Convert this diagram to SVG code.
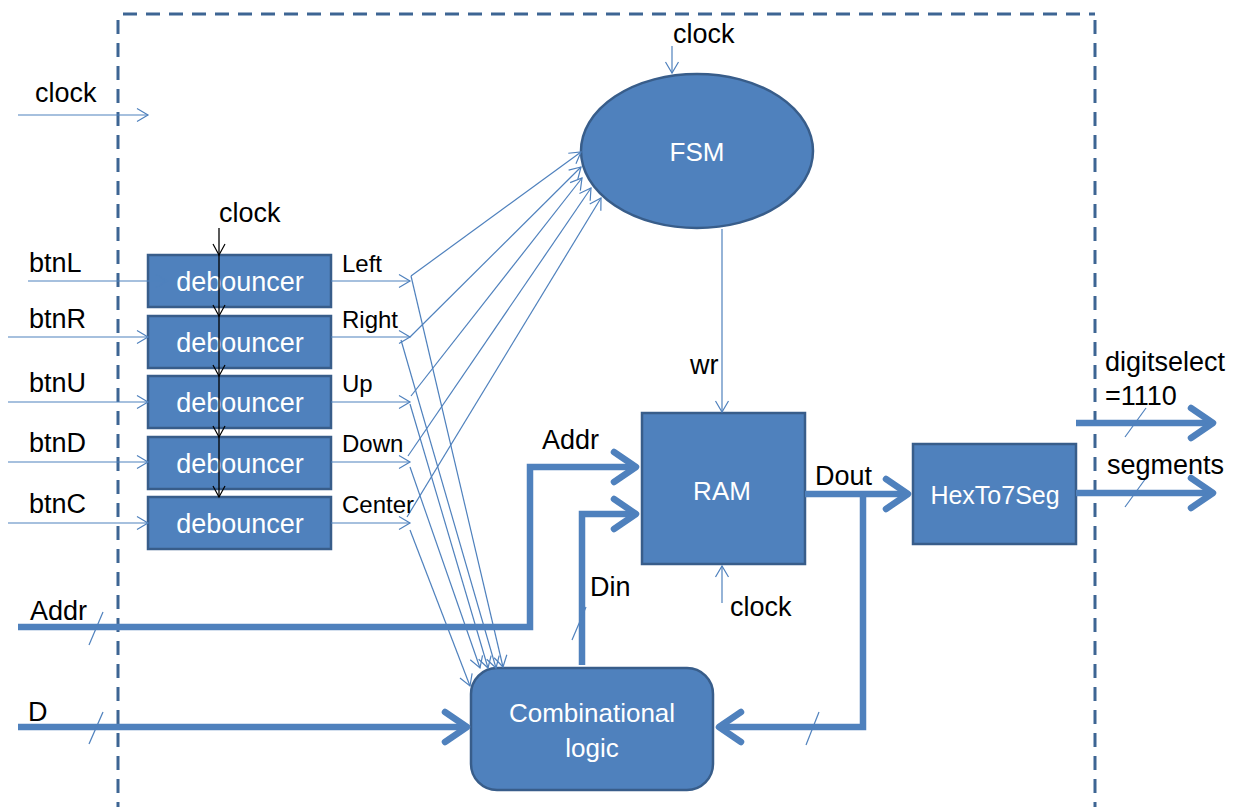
<svg xmlns="http://www.w3.org/2000/svg" width="1239" height="807" viewBox="0 0 1239 807">
<defs>
<marker id="thin" markerUnits="userSpaceOnUse" markerWidth="20" markerHeight="20" refX="11" refY="7" orient="auto" overflow="visible">
<path d="M0,0.5 L11,7 L0,13.5" fill="none" stroke="#4f81bd" stroke-width="1.2"/>
</marker>
<marker id="blk" markerUnits="userSpaceOnUse" markerWidth="20" markerHeight="20" refX="11" refY="7" orient="auto" overflow="visible">
<path d="M0,1 L11,7 L0,13" fill="none" stroke="#000" stroke-width="1.2"/>
</marker>
<marker id="thick" markerUnits="userSpaceOnUse" markerWidth="40" markerHeight="40" refX="0" refY="0" orient="auto" overflow="visible">
<path d="M-22,-15 L0,0 L-22,15" fill="none" stroke="#4f81bd" stroke-width="6.5" stroke-linecap="round" stroke-linejoin="round"/>
</marker>
</defs>
<style>
.node{fill:#4f81bd;stroke:#385d8a;stroke-width:2.5}
.nl{fill:#fff;font-family:"Liberation Sans",Arial,sans-serif;text-anchor:middle}
.t{fill:#000;font-family:"Liberation Sans",Arial,sans-serif;font-size:27px}
.s{font-size:24px}
.thin{fill:none;stroke:#4f81bd;stroke-width:1.2}
.thick{fill:none;stroke:#4f81bd;stroke-width:6.5}
.tick{fill:none;stroke:#4f81bd;stroke-width:1.2}
.dash{fill:none;stroke:#3d6593;stroke-width:3;stroke-dasharray:14 9}
</style>
<g id="boundary">
<line class="dash" x1="123" y1="14" x2="1095" y2="14"/>
<line class="dash" x1="118" y1="20" x2="118" y2="807"/>
<line class="dash" x1="1095" y1="20" x2="1095" y2="807"/>
</g>
<g id="fsm"><ellipse class="node" cx="697" cy="151" rx="116" ry="77"/><text class="nl" x="697" y="161" font-size="26">FSM</text></g>
<g id="ram"><rect class="node" x="642" y="413" width="163" height="151"/><text class="nl" x="722" y="500" font-size="26">RAM</text></g>
<g id="hex"><rect class="node" x="913" y="444" width="163" height="100"/><text class="nl" x="995" y="504" font-size="25">HexTo7Seg</text></g>
<g id="comb"><rect class="node" x="471" y="668" width="242" height="122" rx="26" ry="26"/><text class="nl" x="592" y="722" font-size="26">Combinational</text><text class="nl" x="592" y="757" font-size="26">logic</text></g>
<g id="debL"><rect class="node" x="148" y="255" width="183" height="52"/><text class="nl" x="240" y="291" font-size="27">debouncer</text></g>
<g id="debR"><rect class="node" x="148" y="316" width="183" height="52"/><text class="nl" x="240" y="352" font-size="27">debouncer</text></g>
<g id="debU"><rect class="node" x="148" y="376" width="183" height="52"/><text class="nl" x="240" y="412" font-size="27">debouncer</text></g>
<g id="debD"><rect class="node" x="148" y="437" width="183" height="52"/><text class="nl" x="240" y="473" font-size="27">debouncer</text></g>
<g id="debC"><rect class="node" x="148" y="497" width="183" height="52"/><text class="nl" x="240" y="533" font-size="27">debouncer</text></g>
<g id="connectors">
<line class="thin" x1="18" y1="115" x2="148" y2="115" marker-end="url(#thin)"/>
<line class="thin" x1="672" y1="46" x2="672" y2="73" marker-end="url(#thin)"/>
<line class="thin" x1="722" y1="229" x2="722" y2="412" marker-end="url(#thin)"/>
<line class="thin" x1="722" y1="603" x2="722" y2="566" marker-end="url(#thin)"/>
<line class="thin" x1="28" y1="281" x2="167" y2="281" marker-end="url(#thin)"/>
<line class="thin" x1="8" y1="337" x2="148" y2="337" marker-end="url(#thin)"/>
<line class="thin" x1="8" y1="402" x2="148" y2="402" marker-end="url(#thin)"/>
<line class="thin" x1="8" y1="462" x2="148" y2="462" marker-end="url(#thin)"/>
<line class="thin" x1="8" y1="523" x2="148" y2="523" marker-end="url(#thin)"/>
<line class="thin" x1="331" y1="281" x2="410" y2="281" marker-end="url(#thin)"/>
<line class="thin" x1="331" y1="337" x2="410" y2="337" marker-end="url(#thin)"/>
<line class="thin" x1="331" y1="402" x2="410" y2="402" marker-end="url(#thin)"/>
<line class="thin" x1="331" y1="462" x2="410" y2="462" marker-end="url(#thin)"/>
<line class="thin" x1="331" y1="523" x2="410" y2="523" marker-end="url(#thin)"/>
<line class="thin" x1="411" y1="276" x2="581" y2="152" marker-end="url(#thin)"/>
<line class="thin" x1="410" y1="337" x2="581" y2="167" marker-end="url(#thin)"/>
<line class="thin" x1="411" y1="396" x2="582" y2="178" marker-end="url(#thin)"/>
<line class="thin" x1="408" y1="456" x2="591" y2="188" marker-end="url(#thin)"/>
<line class="thin" x1="407" y1="517" x2="601" y2="198" marker-end="url(#thin)"/>
<line class="thin" x1="411" y1="276" x2="503" y2="667" marker-end="url(#thin)"/>
<line class="thin" x1="401" y1="340" x2="496" y2="668" marker-end="url(#thin)"/>
<line class="thin" x1="410" y1="404" x2="488" y2="668" marker-end="url(#thin)"/>
<line class="thin" x1="410" y1="467" x2="480" y2="668" marker-end="url(#thin)"/>
<line class="thin" x1="410" y1="530" x2="470" y2="686" marker-end="url(#thin)"/>
<g stroke="#000" stroke-width="1.3" fill="none">
<line x1="219" y1="228" x2="219" y2="255" marker-end="url(#blk)"/>
<line x1="219" y1="255" x2="219" y2="316" marker-end="url(#blk)"/>
<line x1="219" y1="316" x2="219" y2="376" marker-end="url(#blk)"/>
<line x1="219" y1="376" x2="219" y2="437" marker-end="url(#blk)"/>
<line x1="219" y1="437" x2="219" y2="497" marker-end="url(#blk)"/>
</g>
<polyline class="thick" points="18,627 530,627 530,467 636,467" marker-end="url(#thick)"/>
<polyline class="thick" points="582,665 582,514 636,514" marker-end="url(#thick)"/>
<line class="thick" x1="18" y1="727" x2="467" y2="727" marker-end="url(#thick)"/>
<line class="thick" x1="805" y1="494" x2="908" y2="494" marker-end="url(#thick)"/>
<polyline class="thick" points="863,494 863,727 719,727" marker-end="url(#thick)"/>
<line class="thick" x1="1076" y1="423" x2="1213" y2="423" marker-end="url(#thick)"/>
<line class="thick" x1="1076" y1="493" x2="1213" y2="493" marker-end="url(#thick)"/>
<line class="tick" x1="89" y1="645" x2="103" y2="612"/>
<line class="tick" x1="89" y1="744" x2="103" y2="712"/>
<line class="tick" x1="572" y1="640" x2="586" y2="607"/>
<line class="tick" x1="806" y1="745" x2="819" y2="712"/>
<line class="tick" x1="1125" y1="437" x2="1146" y2="408"/>
<line class="tick" x1="1125" y1="507" x2="1146" y2="478"/>
</g>
<g id="labels">
<text class="t" x="35" y="102">clock</text>
<text class="t" x="673" y="43">clock</text>
<text class="t" x="219" y="222">clock</text>
<text class="t" x="730" y="616">clock</text>
<text class="t" x="690" y="374">wr</text>
<text class="t" x="542" y="449">Addr</text>
<text class="t" x="590" y="596">Din</text>
<text class="t" x="815" y="485">Dout</text>
<text class="t" x="30" y="620">Addr</text>
<text class="t" x="28" y="721">D</text>
<text class="t" x="1105" y="371">digitselect</text>
<text class="t" x="1105" y="405">=1110</text>
<text class="t" x="1107" y="474">segments</text>
<text class="t" x="29" y="272" font-size="25px">btnL</text>
<text class="t" x="29" y="328" font-size="25px">btnR</text>
<text class="t" x="29" y="392" font-size="25px">btnU</text>
<text class="t" x="29" y="452" font-size="25px">btnD</text>
<text class="t" x="29" y="513" font-size="25px">btnC</text>
<text class="t s" x="342" y="272">Left</text>
<text class="t s" x="342" y="328">Right</text>
<text class="t s" x="342" y="392">Up</text>
<text class="t s" x="342" y="452">Down</text>
<text class="t s" x="342" y="513">Center</text>
</g>
</svg>
